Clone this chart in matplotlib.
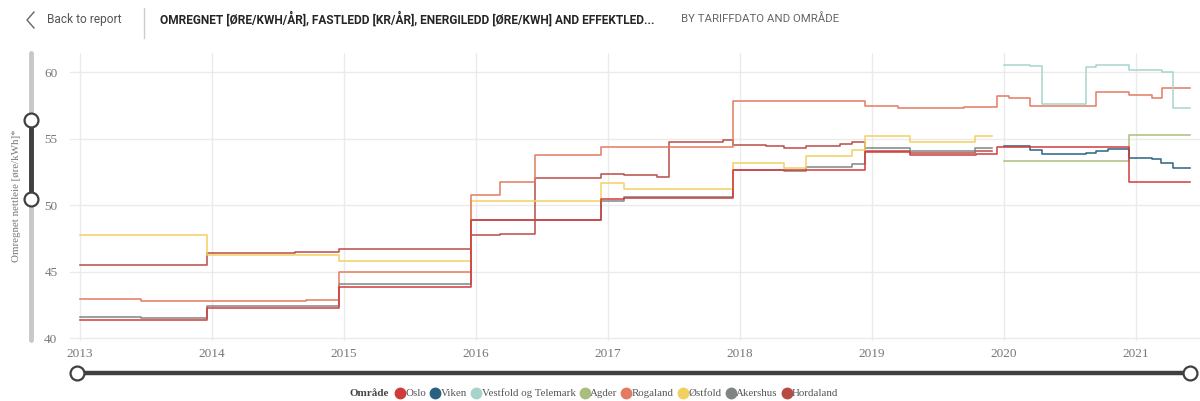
import matplotlib
matplotlib.use('Agg')
import matplotlib.pyplot as plt
from matplotlib.lines import Line2D

# step start dates (decimal years) and values, ore/kWh
oslo_t = [2013.0, 2013.96, 2014.96, 2015.96, 2016.95, 2017.12, 2017.95, 2018.95, 2019.29, 2019.79, 2019.95, 2020.95]
oslo_v = [41.35, 42.28, 43.86, 48.85, 50.5, 50.57, 52.68, 54.02, 53.76, 53.86, 54.35, 51.74]

viken_t = [2020.0, 2020.2, 2020.29, 2020.62, 2020.7, 2020.79, 2020.95, 2021.12, 2021.19, 2021.28]
viken_v = [54.42, 54.17, 53.87, 53.9, 54.05, 54.25, 53.52, 53.45, 53.17, 52.8]

vestfold_t = [2020.0, 2020.2, 2020.29, 2020.62, 2020.7, 2020.95, 2021.2, 2021.28]
vestfold_v = [60.57, 60.5, 57.64, 60.42, 60.57, 60.14, 60.04, 57.32]

agder_t = [2020.0, 2020.95]
agder_v = [53.3, 55.3]

rogaland_t = [2013.0, 2013.46, 2014.71, 2014.96, 2015.96, 2016.18, 2016.45, 2016.95, 2017.95, 2018.95,
              2019.2, 2019.7, 2019.95, 2020.04, 2020.2, 2020.7, 2020.95, 2021.12, 2021.2]
rogaland_v = [42.96, 42.78, 42.84, 45.0, 50.8, 51.75, 53.78, 54.38, 57.82, 57.43,
              57.3, 57.42, 58.2, 58.04, 57.44, 58.54, 58.32, 58.04, 58.79]

ostfold_t = [2013.0, 2013.96, 2014.96, 2015.96, 2016.95, 2017.12, 2017.95, 2018.33, 2018.5, 2018.85,
             2018.95, 2019.29, 2019.78]
ostfold_v = [47.75, 46.22, 45.8, 50.33, 51.68, 51.25, 53.2, 52.8, 53.7, 54.14,
             55.2, 54.75, 55.2]

akershus_t = [2013.0, 2013.46, 2013.96, 2014.96, 2015.96, 2016.95, 2017.12, 2017.95, 2018.33, 2018.5,
              2018.85, 2018.95, 2019.29, 2019.78]
akershus_v = [41.55, 41.5, 42.43, 44.06, 48.85, 50.33, 50.6, 52.68, 52.55, 52.9,
              53.1, 54.3, 54.1, 54.3]

hordaland_t = [2013.0, 2013.96, 2014.63, 2014.96, 2015.96, 2016.18, 2016.45, 2016.95, 2017.12, 2017.37,
               2017.46, 2017.87, 2017.95, 2018.2, 2018.33, 2018.5, 2018.76, 2018.85, 2018.95, 2019.29, 2019.78]
hordaland_v = [45.5, 46.4, 46.5, 46.72, 47.77, 47.85, 52.08, 52.33, 52.25, 52.15,
               54.78, 54.9, 54.5, 54.45, 54.27, 54.45, 54.62, 54.74, 54.05, 53.95, 54.1]

areas = ['Oslo', 'Viken', 'Vestfold og Telemark', 'Agder', 'Rogaland', 'Østfold', 'Akershus', 'Hordaland']
colors = ['#d03a3a', '#2a6180', '#a7d3cc', '#a9be7c', '#e27b62', '#f2d060', '#7f8584', '#b84a44']
ends = [2021.41, 2021.41, 2021.41, 2021.41, 2021.41, 2019.91, 2019.91, 2019.91]
series = [(oslo_t, oslo_v), (viken_t, viken_v), (vestfold_t, vestfold_v), (agder_t, agder_v),
          (rogaland_t, rogaland_v), (ostfold_t, ostfold_v), (akershus_t, akershus_v),
          (hordaland_t, hordaland_v)]

years = list(range(2013, 2022))
yticks = [40, 45, 50, 55, 60]

W, H = 1200, 401
fig = plt.figure(figsize=(W / 100, H / 100), dpi=100)
fig.patch.set_facecolor('white')


def px(x, y):
    return x / W, 1 - y / H


def text_w(txt):
    r = fig.canvas.get_renderer()
    return txt.get_window_extent(renderer=r).width


def fit_width(txt, target):
    # shrink/grow a text so it spans target pixels
    txt.set_fontsize(txt.get_fontsize() * target / text_w(txt))


ax = fig.add_axes([70 / W, 1 - 341 / H, 1130 / W, 288 / H])
draw_order = [7, 6, 5, 4, 3, 2, 1, 0]
for i in draw_order:
    t, v = series[i]
    ax.step(t + [ends[i]], v + [v[-1]], where='post', color=colors[i], lw=1.15, alpha=0.95)

ax.set_xlim(2012.924, 2021.485)
ax.set_ylim(39.78, 61.45)
ax.set_xticks(years)
ax.set_xticklabels([str(y) for y in years])
ax.set_yticks(yticks)
ax.grid(True, color='#ebebeb', lw=1)
ax.set_axisbelow(True)
for s in ax.spines.values():
    s.set_visible(False)
ax.tick_params(length=0, colors='#777777', labelsize=9.5)
for lab in ax.get_xticklabels() + ax.get_yticklabels():
    lab.set_family('Liberation Serif')
ax.tick_params(axis='y', pad=9)
ax.tick_params(axis='x', pad=5)

ylab = fig.text(*px(17, 196), 'Omregnet nettleie [øre/kWh]*', rotation=90, ha='center', va='center',
                fontsize=8.2, color='#777777', family='Liberation Serif')

# left slider
fig.add_artist(Line2D([px(31, 53)[0], px(31, 340)[0]], [px(31, 53)[1], px(31, 340)[1]],
                      color='#c8c8c8', lw=3.5, solid_capstyle='round'))
fig.add_artist(Line2D([px(31, 120)[0], px(31, 199)[0]], [px(31, 120)[1], px(31, 199)[1]],
                      color='#404040', lw=3.5))
for yy in [120, 199]:
    fig.add_artist(Line2D([px(31, yy)[0]], [px(31, yy)[1]], marker='o', ms=10, mfc='white',
                          mec='#404040', mew=1.6))

# bottom slider
fig.add_artist(Line2D([px(77, 373)[0], px(1190, 373)[0]], [px(77, 373)[1], px(1190, 373)[1]],
                      color='#404040', lw=3.2))
for xx in [77, 1190]:
    fig.add_artist(Line2D([px(xx, 373)[0]], [px(xx, 373)[1]], marker='o', ms=10, mfc='white',
                          mec='#404040', mew=1.6))

# header
fig.add_artist(Line2D([px(34, 12)[0], px(27, 20)[0], px(34, 28)[0]],
                      [px(34, 12)[1], px(27, 20)[1], px(34, 28)[1]], color='#666666', lw=1))
back = fig.text(*px(47, 20), 'Back to report', ha='left', va='center', fontsize=9.5,
                color='#555555', family='Roboto')
fig.add_artist(Line2D([px(144, 8)[0], px(144, 38)[0]], [px(144, 8)[1], px(144, 38)[1]],
                      color='#cccccc', lw=1))
title = fig.text(*px(160, 19),
                 'OMREGNET [ØRE/KWH/ÅR], FASTLEDD [KR/ÅR], ENERGILEDD [ØRE/KWH] AND EFFEKTLED...',
                 ha='left', va='center', fontsize=8.5, color='#252525', fontweight='bold',
                 family='Roboto')
sub = fig.text(*px(681, 19), 'BY TARIFFDATO AND OMRÅDE', ha='left', va='center', fontsize=8.5,
               color='#666666', family='Roboto')
fit_width(back, 75)
fit_width(title, 492)
fit_width(sub, 157)
fig.canvas.draw()
ylab.set_fontsize(ylab.get_fontsize() * 132 / ylab.get_window_extent().height)

# legend, laid out left to right
fig.text(*px(350, 393), 'Område', ha='left', va='center', fontsize=8, fontweight='bold',
         color='#444444', family='Liberation Serif')
lx = 400
for name, c in zip(areas, colors):
    fig.add_artist(Line2D([px(lx, 393)[0]], [px(lx, 393)[1]], marker='o', ms=7.5, mfc=c, mec=c))
    t = fig.text(*px(lx + 5.5, 393), name, ha='left', va='center', fontsize=7.8, color='#555555',
                 family='Liberation Serif')
    lx = lx + 5.5 + text_w(t) + 9

plt.savefig('out.png', dpi=100)
plt.close(fig)
